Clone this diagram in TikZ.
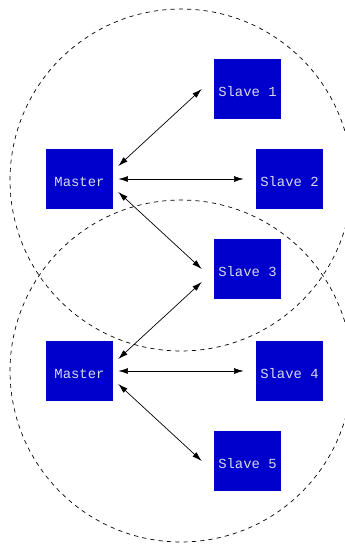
\documentclass[tikz,border=0pt]{standalone}
\usepackage{fontspec}
\setmonofont{Liberation Mono}
\usetikzlibrary{arrows.meta}
\definecolor{boxblue}{RGB}{0,0,204}
\definecolor{boxtext}{RGB}{215,215,235}
\begin{document}
\begin{tikzpicture}[x=0.72pt,y=-0.72pt]
%%%%%%%%%%%%%%%%%%%%%%%%%%%%%%%%%%%%%%%%%%%%%%%%%%%%%%%%
% STYLE
\tikzstyle{unit}=[rectangle,fill=boxblue,text=boxtext,font=\ttfamily,minimum width=48.2pt,minimum height=43.2pt,inner sep=0pt,text height=11.3pt,text depth=0pt]
\tikzstyle{cover}=[dashed,line width=0.5pt]
\tikzstyle{link}=[line width=0.5pt,{Latex[length=7pt,width=4.2pt]}-{Latex[length=7pt,width=4.2pt]}]

\useasboundingbox (0,0) rectangle (345,544);

%%%%%%%%%%%%%%%%%%%%%%%%%%%%%%%%%%%%%%%%%%%%%%%%%%%%%%%%
% RANGES
\draw[cover] (181,180) circle [radius=123.1pt];
\draw[cover] (181,371) circle [radius=123.1pt];

%%%%%%%%%%%%%%%%%%%%%%%%%%%%%%%%%%%%%%%%%%%%%%%%%%%%%%%%
% NODES
\node[unit] (M0) at (79.5,179) {Master};
\node[unit] (M1) at (79.5,371) {Master};

\node[unit] (S1) at (247.5,89) {Slave 1};
\node[unit] (S2) at (289.5,179) {Slave 2};
\node[unit] (S3) at (247.5,269) {Slave 3};
\node[unit] (S4) at (289.5,371) {Slave 4};
\node[unit] (S5) at (247.5,461) {Slave 5};

%%%%%%%%%%%%%%%%%%%%%%%%%%%%%%%%%%%%%%%%%%%%%%%%%%%%%%%%
% LINKS
\draw[link] ([shift={(5,-13)}]M0.east) -- ([shift={(-12,0)}]S1.west);
\draw[link] ([shift={(5,0)}]M0.east) -- ([shift={(-12,0)}]S2.west);
\draw[link] ([shift={(5,13)}]M0.east) -- ([shift={(-12,0)}]S3.west);

\draw[link] ([shift={(5,-12)}]M1.east) -- ([shift={(-12,13)}]S3.west);
\draw[link] ([shift={(5,0)}]M1.east) -- ([shift={(-12,0)}]S4.west);
\draw[link] ([shift={(5,13)}]M1.east) -- ([shift={(-12,0)}]S5.west);

\end{tikzpicture}
\end{document}
